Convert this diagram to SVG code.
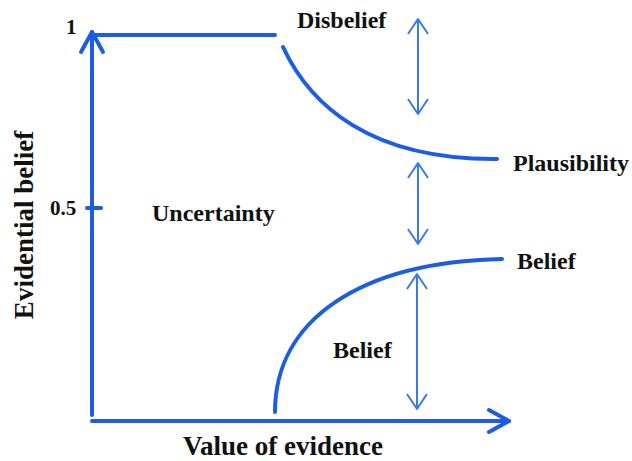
<svg xmlns="http://www.w3.org/2000/svg" width="632" height="461" viewBox="0 0 632 461">
  <style>
    .axis { fill: none; stroke: #1c5de2; stroke-width: 4; stroke-linecap: round; }
    .curve { fill: none; stroke: #1c5de2; stroke-width: 4; stroke-linecap: round; }
    .span { fill: none; stroke: #3a7ae8; stroke-width: 2; }
    .lbl { font-family: "Liberation Serif", "Times New Roman", serif; font-weight: bold; fill: #111; }
    .big { font-size: 27px; }
    .mid { font-size: 24px; }
    .num { font-size: 21px; }
  </style>
  <defs>
    <marker id="axisHead" viewBox="-24 -14 28 28" refX="0" refY="0" markerWidth="28" markerHeight="28" markerUnits="userSpaceOnUse" orient="auto">
      <path d="M-20,-11 L0,0 L-20,11" fill="none" stroke="#1c5de2" stroke-width="4" stroke-linecap="round" stroke-linejoin="round"/>
    </marker>
    <marker id="spanHead" viewBox="-18 -12 21 24" refX="0" refY="0" markerWidth="21" markerHeight="24" markerUnits="userSpaceOnUse" orient="auto-start-reverse">
      <path d="M-15,-10 L0,0 L-15,10" fill="none" stroke="#3a7ae8" stroke-width="2" stroke-linejoin="round"/>
    </marker>
  </defs>

  <!-- axes -->
  <g id="axes">
    <line class="axis" x1="92" y1="415" x2="92" y2="32" marker-end="url(#axisHead)"/>
    <line class="axis" x1="92" y1="421" x2="509" y2="421" marker-end="url(#axisHead)"/>
    <line class="axis" x1="92" y1="35" x2="275" y2="35"/>
    <line class="axis" x1="87" y1="208" x2="101" y2="208"/>
  </g>

  <!-- plausibility and belief curves -->
  <g id="curves">
    <path id="plausibility-curve" class="curve" d="M283,47 C310,105 370,160 497,159"/>
    <path id="belief-curve" class="curve" d="M275,412 C275,320 360,262 502,259"/>
  </g>

  <!-- double-headed span arrows -->
  <g id="connectors">
    <line class="span" x1="418" y1="19" x2="418" y2="114" marker-start="url(#spanHead)" marker-end="url(#spanHead)"/>
    <line class="span" x1="418" y1="163" x2="418" y2="244" marker-start="url(#spanHead)" marker-end="url(#spanHead)"/>
    <line class="span" x1="417" y1="274" x2="417" y2="409" marker-start="url(#spanHead)" marker-end="url(#spanHead)"/>
  </g>

  <!-- labels -->
  <g id="label-one"><text class="lbl num" x="66" y="34">1</text></g>
  <g id="label-half"><text class="lbl num" x="50" y="215">0.5</text></g>
  <g id="label-y"><text class="lbl big" transform="translate(33,225) rotate(-90)" text-anchor="middle">Evidential belief</text></g>
  <g id="label-x"><text class="lbl big" x="183" y="455">Value of evidence</text></g>
  <g id="label-disbelief"><text class="lbl mid" x="297" y="28">Disbelief</text></g>
  <g id="label-plausibility"><text class="lbl mid" x="513" y="171">Plausibility</text></g>
  <g id="label-uncertainty"><text class="lbl mid" x="152" y="221">Uncertainty</text></g>
  <g id="label-belief-curve"><text class="lbl mid" x="517" y="269">Belief</text></g>
  <g id="label-belief-span"><text class="lbl mid" x="333" y="358">Belief</text></g>
</svg>
